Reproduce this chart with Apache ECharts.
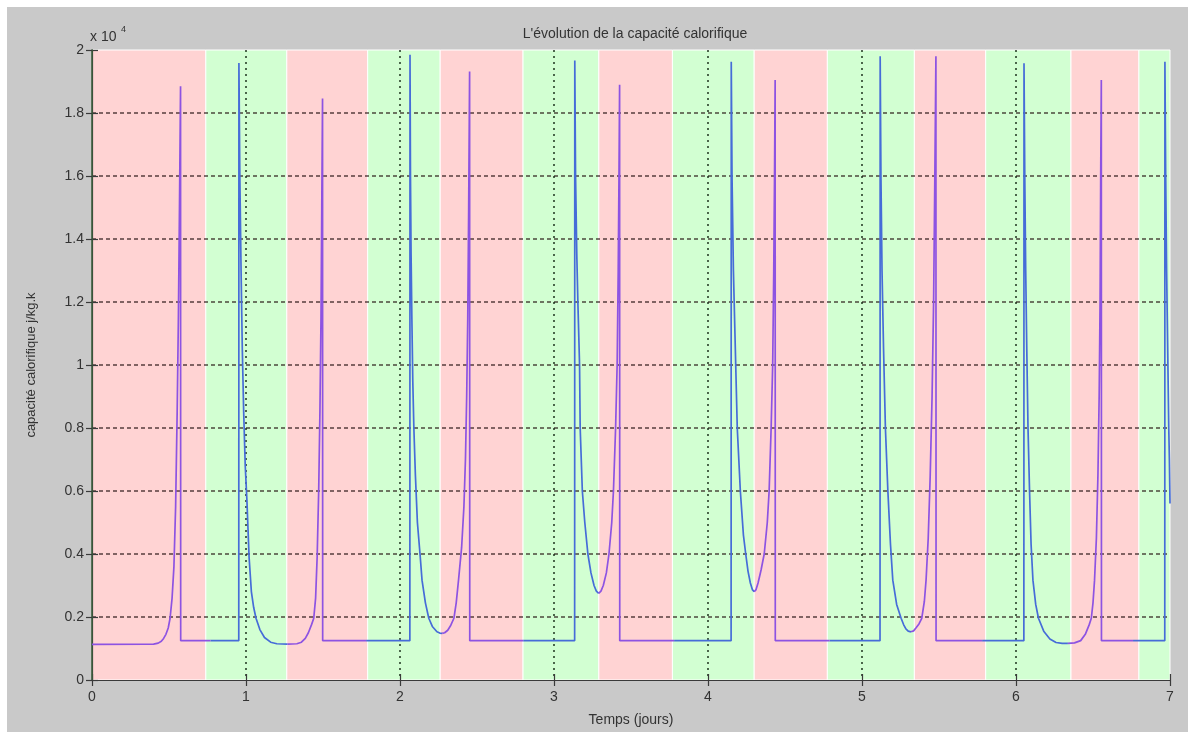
<!DOCTYPE html>
<html>
<head>
<meta charset="utf-8">
<script src="https://cdn.jsdelivr.net/npm/echarts@6/dist/echarts.min.js"></script>
<style>
html,body{margin:0;padding:0;background:#fff;}
#wrap{position:absolute;left:7px;top:7px;width:1181px;height:725px;background:#c9c9c9;}
#chart{position:absolute;left:0;top:0;width:1193px;height:734px;}
</style>
</head>
<body>
<div id="wrap"></div>
<div id="chart"></div>
<script>
// ---- data ----
const titleText = "L'évolution de la capacité calorifique";
const xTitle = "Temps (jours)";
const yTitle = "capacité calorifique j/kg.k";

// time (days)
const times = [
  0, 0.35, 0.40, 0.43, 0.45, 0.465, 0.48, 0.495, 0.507, 0.52, 0.532, 0.543, 0.553, 0.561, 0.568, 0.575, 0.576, 0.77,
  0.953, 0.954, 0.96, 0.968, 0.976, 0.985, 0.995, 1.006, 1.02, 1.035, 1.05, 1.065, 1.09, 1.12, 1.16, 1.2, 1.27, 1.33, 1.36, 1.385, 1.405, 1.425, 1.44, 1.452, 1.462, 1.472, 1.48, 1.487, 1.492, 1.497, 1.498, 1.78,
  2.064, 2.065, 2.068, 2.072, 2.077, 2.083, 2.09, 2.10, 2.113, 2.13, 2.143, 2.165, 2.187, 2.21, 2.24, 2.258, 2.274, 2.29, 2.31, 2.33, 2.35, 2.365, 2.38, 2.40, 2.415, 2.425, 2.433, 2.44, 2.446, 2.452, 2.453, 2.8,
  3.134, 3.135, 3.14, 3.148, 3.155, 3.166, 3.17, 3.184, 3.2, 3.22, 3.24, 3.26, 3.275, 3.29, 3.305, 3.32, 3.34, 3.357, 3.375, 3.386, 3.40, 3.41, 3.417, 3.422, 3.426, 3.427, 3.78,
  4.15, 4.151, 4.156, 4.165, 4.175, 4.19, 4.21, 4.23, 4.245, 4.26, 4.275, 4.288, 4.30, 4.312, 4.325, 4.345, 4.365, 4.385, 4.397, 4.41, 4.42, 4.427, 4.432, 4.436, 4.437, 4.79,
  5.117, 5.118, 5.123, 5.13, 5.14, 5.152, 5.168, 5.185, 5.2, 5.225, 5.254, 5.27, 5.285, 5.30, 5.318, 5.335, 5.35, 5.37, 5.388, 5.405, 5.416, 5.43, 5.443, 5.455, 5.465, 5.473, 5.48, 5.481, 5.78,
  6.051, 6.052, 6.057, 6.063, 6.07, 6.078, 6.088, 6.098, 6.11, 6.128, 6.146, 6.18, 6.22, 6.26, 6.30, 6.337, 6.38, 6.42, 6.45, 6.475, 6.489, 6.50, 6.51, 6.522, 6.532, 6.54, 6.546, 6.55, 6.554, 6.555, 6.76,
  6.966, 6.967, 6.972, 6.978, 6.985, 6.992, 6.996, 7.0
];
// capacité calorifique (j/kg.k)
const capacity = [
  1130, 1135, 1140, 1170, 1230, 1320, 1450, 1650, 1960, 2600, 3600, 5500, 8500, 11500, 15000, 18850, 1250, 1250,
  1250, 19590, 16000, 13000, 10500, 8500, 6800, 5700, 3900, 2800, 2300, 1960, 1600, 1350, 1200, 1150, 1140, 1150, 1200, 1320, 1500, 1750, 1960, 2600, 3900, 6000, 8500, 11500, 15000, 18460, 1250, 1250,
  1250, 19850, 16000, 13500, 11500, 9500, 8000, 6500, 5000, 4000, 3170, 2450, 1960, 1700, 1530, 1490, 1480, 1500, 1580, 1740, 1960, 2450, 3170, 4200, 5500, 7000, 9000, 11500, 15000, 19320, 1250, 1250,
  1250, 19670, 16000, 13500, 12000, 10000, 8000, 6000, 5000, 4000, 3400, 3000, 2820, 2750, 2820, 3000, 3400, 4000, 5000, 6000, 8000, 10000, 13000, 16000, 18900, 1250, 1250,
  1250, 19630, 16000, 13000, 11000, 8000, 6000, 4600, 4000, 3450, 3080, 2870, 2800, 2870, 3080, 3500, 4000, 5000, 6000, 8000, 10000, 13000, 16000, 19050, 1250, 1250,
  1250, 19800, 16000, 13000, 10500, 8000, 6000, 4300, 3170, 2400, 1960, 1760, 1620, 1550, 1530, 1560, 1650, 1780, 1960, 2500, 3170, 4500, 6500, 9000, 12000, 16000, 19800, 1250, 1250,
  1250, 19580, 16000, 13000, 10500, 8000, 6000, 4300, 3170, 2400, 1960, 1550, 1300, 1190, 1160, 1160, 1180, 1250, 1450, 1750, 1960, 2450, 3170, 4500, 6500, 9000, 12000, 16000, 19050, 1250, 1250,
  1250, 19630, 16000, 13000, 10500, 8000, 7000, 5600
];

// heating phases (drawn purple); the rest is cooling (blue)
const heatingPhases = [[0, 0.77], [1.27, 1.78], [2.274, 2.8], [3.29, 3.78], [4.30, 4.79], [5.318, 5.78], [6.337, 6.76]];

// day/night background bands: edges, first band pink
const bandEdges = [0, 0.739, 1.265, 1.79, 2.261, 2.799, 3.291, 3.769, 4.30, 4.775, 5.34, 5.803, 6.357, 6.798, 7];

const xTicks = [0, 1, 2, 3, 4, 5, 6, 7];
const yTicks = [0, 0.2, 0.4, 0.6, 0.8, 1, 1.2, 1.4, 1.6, 1.8, 2];
const yScale = 10000;

// ---- build chart ----
const PINK = '#ffd3d3', GREEN = '#d2ffd2', PURPLE = '#8d53e2', BLUE = '#466cd8';
const bands = [];
for (let i = 0; i < bandEdges.length - 1; i++) {
  bands.push([
    {xAxis: bandEdges[i], itemStyle: {color: i % 2 === 0 ? PINK : GREEN}},
    {xAxis: bandEdges[i + 1]}
  ]);
}
const inHeating = t => heatingPhases.some(p => t >= p[0] - 1e-9 && t <= p[1] + 1e-9);
const isBoundary = t => heatingPhases.some(p => Math.abs(t - p[0]) < 1e-9 || Math.abs(t - p[1]) < 1e-9);
const heatData = times.map((t, i) => inHeating(t) ? [t, capacity[i]] : [t, null]);
const coolData = times.map((t, i) => (!inHeating(t) || isBoundary(t)) ? [t, capacity[i]] : [t, null]);
const font = '"Liberation Sans", Arial, sans-serif';

const chart = echarts.init(document.getElementById('chart'), null, {renderer: 'canvas'});
const axisLineStyle = {color: '#3a3a3a', width: 1.2};
const lineCommon = {type: 'line', showSymbol: false, symbol: 'none', connectNulls: false, silent: true};
chart.setOption({
  backgroundColor: 'transparent',
  animation: false,
  textStyle: {fontFamily: font},
  title: {
    text: titleText, left: 630, top: 22, textAlign: 'center',
    textStyle: {fontSize: 14, fontWeight: 'normal', color: '#333', fontFamily: font}
  },
  grid: {left: 92, right: 23, top: 50, bottom: 54, containLabel: false},
  xAxis: [{
    type: 'value', min: 0, max: 7, interval: 1, z: 4,
    name: xTitle, nameLocation: 'middle', nameGap: 33,
    nameTextStyle: {fontSize: 14, color: '#333', fontFamily: font},
    axisLine: {show: true, lineStyle: axisLineStyle},
    axisTick: {show: true, inside: true, length: 6, lineStyle: axisLineStyle},
    axisLabel: {fontSize: 14, color: '#333', margin: 10, formatter: v => xTicks.includes(v) ? String(v) : ''},
    splitLine: {show: true, showMinLine: false, showMaxLine: false,
      lineStyle: {color: 'rgba(10,30,10,0.85)', type: [2, 4], width: 1.6}}
  }, {
    type: 'value', position: 'top', min: 0, max: 7, interval: 1, z: 5,
    axisLine: {show: true, lineStyle: axisLineStyle},
    axisTick: {show: true, inside: true, length: 6, lineStyle: axisLineStyle},
    axisLabel: {show: false}, splitLine: {show: false}
  }],
  yAxis: [{
    type: 'value', min: 0, max: 20000, interval: 2000, z: 4,
    name: yTitle, nameLocation: 'middle', nameGap: 54, nameRotate: 90,
    nameTextStyle: {fontSize: 13, color: '#333', fontFamily: font},
    axisLine: {show: true, lineStyle: axisLineStyle},
    axisTick: {show: true, inside: true, length: 6, lineStyle: axisLineStyle},
    axisLabel: {fontSize: 14, color: '#333', margin: 8,
      formatter: v => { const t = Math.round(v / yScale * 10) / 10; return yTicks.includes(t) ? String(t) : ''; }},
    splitLine: {show: true, showMinLine: false, showMaxLine: false,
      lineStyle: {color: 'rgba(30,10,10,0.75)', type: [4, 3], width: 1.6}}
  }, {
    type: 'value', position: 'right', min: 0, max: 20000, interval: 2000, z: 5,
    axisLine: {show: true, lineStyle: {color: '#3a5a3a', width: 1.6}},
    axisTick: {show: true, inside: true, length: 6, lineStyle: axisLineStyle},
    axisLabel: {show: false}, splitLine: {show: false}
  }],
  graphic: [{
    type: 'text', left: 90, top: 30, z: 10,
    style: {text: 'x 10', font: '14px ' + font, fill: '#333'}
  }, {
    type: 'text', left: 121, top: 25, z: 10,
    style: {text: '4', font: '9px ' + font, fill: '#333'}
  }],
  series: [{
    type: 'line', data: [], z: 1, silent: true,
    markArea: {silent: true, itemStyle: {borderColor: '#ffffff', borderWidth: 1}, data: bands}
  }, Object.assign({}, lineCommon, {
    name: 'refroidissement', data: coolData, z: 6,
    lineStyle: {width: 1.7, color: BLUE}, itemStyle: {color: BLUE}
  }), Object.assign({}, lineCommon, {
    name: 'chauffage', data: heatData, z: 7,
    lineStyle: {width: 1.7, color: PURPLE}, itemStyle: {color: PURPLE}
  })]
});
</script>
</body>
</html>
